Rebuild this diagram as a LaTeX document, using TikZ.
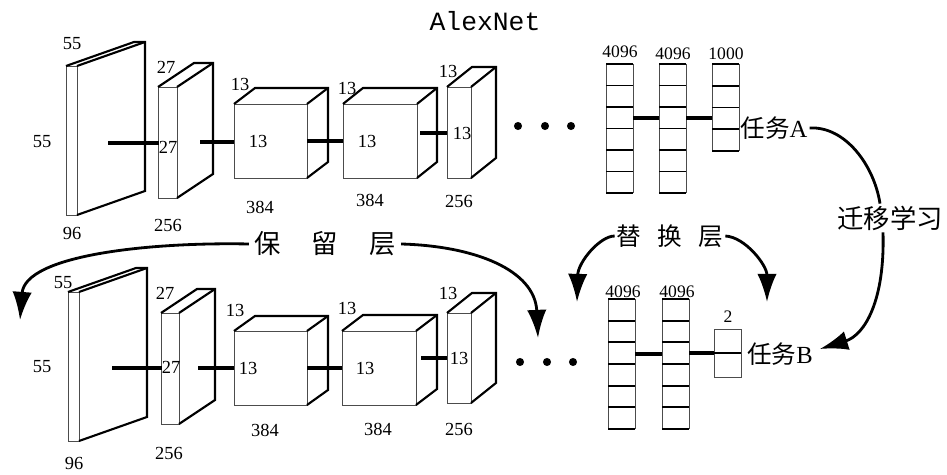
\documentclass[tikz,border=0pt]{standalone}
\usepackage{fontspec}
\setmainfont{Liberation Serif}
\newfontfamily\cjk{Noto Sans CJK SC}
\newfontfamily\netfont{Liberation Mono}
\usetikzlibrary{arrows.meta}

% one conv block: front face at (#1,#2), size #3 x #4, depth offset (#5,#6)
\newcommand{\cuboid}[6]{%
  \draw[frontface] (#1,#2) rectangle ++(#3,#4);
  \draw[backedge] (#1,#2) -- ++(#5,#6) -- ++(#3,0) -- ++(0,#4) -- ++({-(#5)},{-(#6)});
  \draw[backedge] ({#1+#3},#2) -- ++(#5,#6);
}
% one fully connected column: top left (#1,#2), width #3, #4 cells of height #5
\newcommand{\fccol}[5]{%
  \draw[frontface] (#1,#2) -- ++(0,{#4*#5}) ({#1+#3},#2) -- ++(0,{#4*#5});
  \foreach \k in {0,...,#4} \draw[cellline] (#1,{#2+\k*#5}) -- ++(#3,0);
}

\tikzset{
  frontface/.style={line width=0.5pt, draw=black!70},
  backedge/.style={line width=1.2pt, line join=miter},
  cellline/.style={line width=1pt},
  link/.style={line width=1.8pt},
  bendarrow/.style={line width=1.6pt, -{Latex[length=16pt,width=11pt]}},
  dimlabel/.style={font=\fontsize{10.5}{12}\selectfont, inner sep=0pt},
  fclabel/.style={font=\fontsize{10}{11}\selectfont, inner sep=0pt},
  tasklabel/.style={font=\fontsize{14}{16}\selectfont, inner sep=1pt},
}

\begin{document}
\begin{tikzpicture}[x=0.02cm,y=-0.02cm]
\useasboundingbox (0,0) rectangle (947,475);
\node[font=\netfont\fontsize{15}{17}\selectfont] (alex) at (485,21) {AlexNet};
% ---------- original network (top) ----------
\cuboid{66}{66}{11}{149}{68}{-24}
\cuboid{158}{87}{19}{111}{36}{-24}
\cuboid{234}{104}{73}{74}{21}{-16}
\cuboid{343}{104}{74}{74}{20}{-16}
\cuboid{447}{87}{24}{91}{25}{-20}
\node[dimlabel] (t55a) at (72,44) {55};
\node[dimlabel] (t55b) at (42,142) {55};
\node[dimlabel] (t96) at (72,233) {96};
\node[dimlabel] (t27a) at (166,67) {27};
\node[dimlabel] (t27b) at (168,147) {27};
\node[dimlabel] (t256a) at (168,225) {256};
\node[dimlabel] (t13a) at (240,84) {13};
\node[dimlabel] (t13b) at (258,141) {13};
\node[dimlabel] (t384a) at (260,207) {384};
\node[dimlabel] (t13c) at (347,88) {13};
\node[dimlabel] (t13d) at (367,141) {13};
\node[dimlabel] (t384b) at (370,200) {384};
\node[dimlabel] (t13e) at (448,71) {13};
\node[dimlabel] (t13f) at (462,133) {13};
\node[dimlabel] (t256b) at (459,201) {256};
\coordinate (ta1) at (108,143); \coordinate (ta2) at (159,143);
\coordinate (tb1) at (200,142); \coordinate (tb2) at (234,142);
\coordinate (tc1) at (307,141); \coordinate (tc2) at (343,141);
\coordinate (td1) at (420,133); \coordinate (td2) at (447,133);
\draw[link] (ta1) -- (ta2);
\draw[link] (tb1) -- (tb2);
\draw[link] (tc1) -- (tc2);
\draw[link] (td1) -- (td2);
\foreach \x in {518,545,571} \fill (\x,126) circle (2.3pt);
% fully connected part
\fccol{606}{64}{27}{6}{21.5}
\fccol{659}{64}{27}{6}{21.5}
\fccol{712}{64}{27}{4}{21.75}
\node[fclabel] (tf1) at (620,52) {4096};
\node[fclabel] (tf2) at (673,54) {4096};
\node[fclabel] (tf3) at (726,54) {1000};
\coordinate (te1) at (633,118); \coordinate (te2) at (659,118);
\coordinate (tg1) at (686,118); \coordinate (tg2) at (712,118);
\draw[link] (te1) -- (te2);
\draw[link] (tg1) -- (tg2);
\node[tasklabel] (taska) at (774,128) {{\cjk 任务}A};
% ---------- transferred network (bottom) ----------
\cuboid{68}{292}{11}{149}{68}{-24}
\cuboid{161}{313}{18}{111}{36}{-24}
\cuboid{234}{331}{73}{74}{21}{-15}
\cuboid{342}{331}{74}{74}{21}{-16}
\cuboid{447}{313}{24}{90}{25}{-20}
\node[dimlabel] (b55a) at (63,283) {55};
\node[dimlabel] (b55b) at (42,367) {55};
\node[dimlabel] (b96) at (74,463) {96};
\node[dimlabel] (b27a) at (165,293) {27};
\node[dimlabel] (b27b) at (171,367) {27};
\node[dimlabel] (b256a) at (169,453) {256};
\node[dimlabel] (b13a) at (235,310) {13};
\node[dimlabel] (b13b) at (248,368) {13};
\node[dimlabel] (b384a) at (265,430) {384};
\node[dimlabel] (b13c) at (347,308) {13};
\node[dimlabel] (b13d) at (365,368) {13};
\node[dimlabel] (b384b) at (378,429) {384};
\node[dimlabel] (b13e) at (448,293) {13};
\node[dimlabel] (b13f) at (459,358) {13};
\node[dimlabel] (b256b) at (459,429) {256};
\coordinate (ba1) at (112,368); \coordinate (ba2) at (162,368);
\coordinate (bb1) at (198,368); \coordinate (bb2) at (234,368);
\coordinate (bc1) at (307,368); \coordinate (bc2) at (342,368);
\coordinate (bd1) at (421,358); \coordinate (bd2) at (447,358);
\draw[link] (ba1) -- (ba2);
\draw[link] (bb1) -- (bb2);
\draw[link] (bc1) -- (bc2);
\draw[link] (bd1) -- (bd2);
\foreach \x in {520,547,573} \fill (\x,362) circle (2.3pt);
% new fully connected part
\fccol{608}{299}{27}{6}{21.67}
\fccol{662}{299}{27}{6}{21.67}
\draw[frontface] (714,329) rectangle (741,377);
\draw[cellline] (714,353) -- (741,353);
\node[fclabel] (bf1) at (623,292) {4096};
\node[fclabel] (bf2) at (677,292) {4096};
\node[fclabel] (bf3) at (728,317) {2};
\coordinate (be1) at (635,354); \coordinate (be2) at (662,354);
\coordinate (bg1) at (689,353); \coordinate (bg2) at (714,353);
\draw[link] (be1) -- (be2);
\draw[link] (bg1) -- (bg2);
\node[tasklabel] (taskb) at (780,354) {{\cjk 任务}B};
% ---------- annotations ----------
\node[font=\cjk\fontsize{15}{17}\selectfont, inner sep=3pt] (keep) at (325,244) {保\hspace{17.6pt}留\hspace{17.6pt}层};
\node[font=\cjk\fontsize{14}{16}\selectfont, inner sep=1pt] (swap) at (670,236) {替\hspace{9.3pt}换\hspace{9.3pt}层};
\node[font=\cjk\fontsize{15}{17}\selectfont, inner sep=1pt] (transfer) at (890,218) {迁移学习};
\coordinate (keepend) at (20,320);
\coordinate (keephead) at (538,338);
\coordinate (swapend) at (577,302);
\coordinate (swaphead) at (767,302);
\draw[bendarrow] (keep.west) .. controls (150,242) and (25,255) .. (keepend);
\draw[bendarrow] (keep.east) .. controls (475,246) and (535,270) .. (keephead);
\draw[bendarrow] (swap.west) .. controls (600,236) and (578,262) .. (swapend);
\draw[bendarrow] (swap.east) .. controls (745,237) and (767,265) .. (swaphead);
\draw[line width=1.6pt] (taska.east) .. controls (845,126) and (874,165) .. ([xshift=-0.2cm]transfer.north);
\draw[bendarrow] ([xshift=-0.14cm]transfer.south) .. controls (885,300) and (865,335) .. ([shift={(0.1cm,0.1cm)}]taskb.east);
\end{tikzpicture}
\end{document}
